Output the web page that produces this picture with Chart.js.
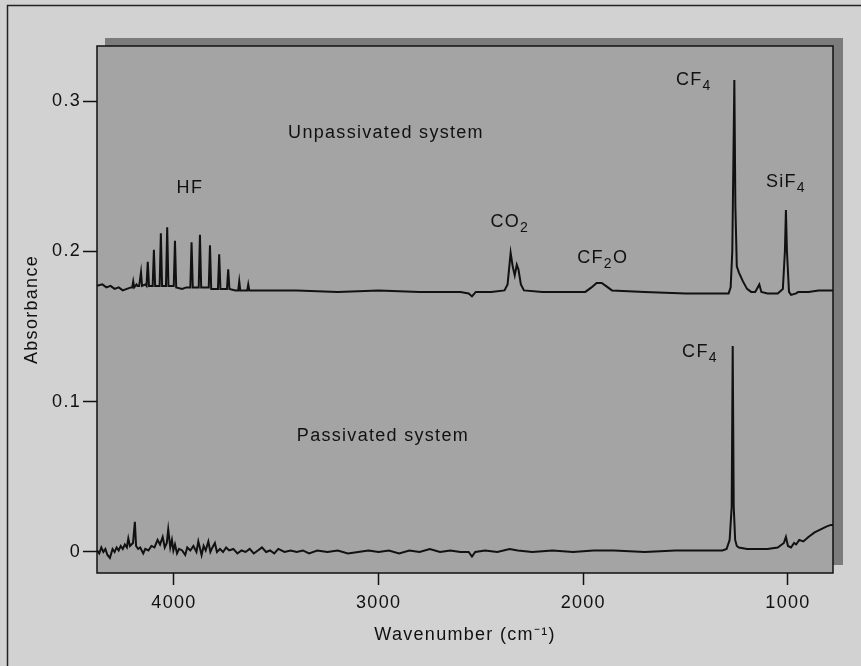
<!DOCTYPE html>
<html>
<head>
<meta charset="utf-8">
<script src="https://cdn.jsdelivr.net/npm/chart.js@4.4.1/dist/chart.umd.min.js"></script>
<style>
  html, body { margin: 0; padding: 0; background: #d2d2d2; }
  #wrap { width: 861px; height: 666px; position: relative; }
</style>
</head>
<body>
<div id="wrap"><canvas id="spectrum" width="861" height="666"></canvas></div>
<script>
// Spectrum data (wavenumber in cm-1, absorbance)
const unpassWn = [
  4376, 4350, 4330, 4310, 4290, 4270, 4250, 4230, 4210, 4204,
  4199, 4194, 4183, 4178, 4170, 4166, 4161, 4156, 4140, 4134,
  4128, 4122, 4104, 4098, 4092, 4070, 4064, 4058, 4039, 4033,
  4027, 4001, 3995, 3989, 3960, 3940, 3920, 3914, 3908, 3879,
  3873, 3867, 3830, 3824, 3818, 3785, 3779, 3773, 3741, 3735,
  3729, 3700, 3686, 3681, 3676, 3642, 3637, 3632, 3550, 3400,
  3200, 3000, 2800, 2600, 2560, 2544, 2525, 2450, 2385, 2370,
  2355, 2345, 2335, 2325, 2317, 2305, 2290, 2200, 2100, 1990,
  1960, 1935, 1910, 1890, 1860, 1700, 1500, 1350, 1290, 1280,
  1272, 1262, 1257, 1250, 1240, 1220, 1200, 1180, 1160, 1140,
  1130, 1100, 1050, 1025, 1015, 1010, 1005, 995, 985, 960,
  950, 900, 850, 780];
const unpassAbs = [
  0.177, 0.178, 0.176, 0.177, 0.175, 0.176, 0.174, 0.175, 0.176, 0.176,
  0.180, 0.176, 0.178, 0.177, 0.177, 0.177, 0.186, 0.177, 0.178, 0.177,
  0.193, 0.177, 0.177, 0.201, 0.177, 0.177, 0.212, 0.177, 0.177, 0.216,
  0.177, 0.177, 0.207, 0.176, 0.175, 0.176, 0.176, 0.206, 0.176, 0.176,
  0.211, 0.176, 0.176, 0.204, 0.175, 0.175, 0.198, 0.175, 0.175, 0.188,
  0.175, 0.174, 0.174, 0.180, 0.174, 0.174, 0.178, 0.174, 0.174, 0.174,
  0.173, 0.174, 0.173, 0.173, 0.172, 0.170, 0.173, 0.173, 0.174, 0.178,
  0.199, 0.190, 0.184, 0.191, 0.188, 0.178, 0.174, 0.173, 0.173, 0.173,
  0.176, 0.179, 0.179, 0.177, 0.174, 0.173, 0.172, 0.172, 0.172, 0.176,
  0.200, 0.314, 0.230, 0.190, 0.186, 0.180, 0.175, 0.173, 0.173, 0.178,
  0.173, 0.172, 0.172, 0.175, 0.200, 0.2275, 0.200, 0.173, 0.171, 0.172,
  0.173, 0.173, 0.174, 0.174];

const passWn = [4376, 4365, 4355, 4345, 4335, 4325, 4313, 4300, 4290, 4280, 4270, 4260, 4250, 4240, 4230, 4223, 4215, 4200, 4191, 4185,
  4175, 4165, 4150, 4140, 4125, 4110, 4095, 4080, 4068, 4055, 4045, 4035, 4028, 4018, 4010, 4003, 3995, 3985, 3975, 3960,
  3945, 3935, 3920, 3905, 3890, 3881, 3872, 3865, 3855, 3845, 3832, 3822, 3812, 3800, 3790, 3775, 3760, 3745, 3730, 3710,
  3690, 3670, 3650, 3630, 3610, 3590, 3570, 3550, 3530, 3510, 3490, 3460, 3430, 3400, 3370, 3340, 3300, 3250, 3200, 3150,
  3100, 3050, 3000, 2950, 2900, 2850, 2800, 2750, 2700, 2650, 2600, 2560, 2544, 2528, 2480, 2420, 2360, 2320, 2250, 2150,
  2050, 1950, 1850, 1700, 1550, 1400, 1320, 1300, 1285, 1275, 1270, 1265, 1258, 1250, 1240, 1200, 1150, 1100, 1050, 1020,
  1010, 1000, 985, 970, 960, 945, 925, 900, 870, 840, 810, 790, 780];
const passAbs = [0.001, -0.001, 0.003, 0.000, 0.002, -0.002, -0.004, 0.002, 0.000, 0.003, 0.001, 0.004, 0.002, 0.005, 0.003, 0.009, 0.004, 0.006, 0.020, 0.004,
  0.002, 0.003, -0.001, 0.002, 0.001, 0.004, 0.003, 0.008, 0.005, 0.010, 0.003, 0.006, 0.015, 0.003, 0.008, 0.001, 0.005, -0.001, 0.002, 0.001,
  -0.002, 0.003, 0.001, 0.004, 0.000, 0.007, 0.002, -0.002, 0.004, 0.001, 0.007, 0.000, 0.003, 0.006, 0.000, 0.002, 0.000, 0.003, 0.001, 0.002,
  -0.001, 0.001, 0.000, 0.002, -0.001, 0.001, 0.003, 0.000, 0.001, -0.001, 0.002, 0.000, 0.001, 0.000, 0.001, -0.001, 0.001, 0.000, 0.001, -0.001,
  0.000, 0.001, 0.000, 0.001, -0.001, 0.001, 0.000, 0.002, 0.000, 0.001, 0.000, 0.000, -0.003, 0.000, 0.001, 0.000, 0.002, 0.001, 0.000, 0.001,
  0.000, 0.001, 0.001, 0.000, 0.001, 0.001, 0.001, 0.002, 0.008, 0.030, 0.137, 0.030, 0.008, 0.004, 0.003, 0.002, 0.002, 0.002, 0.003, 0.006,
  0.010, 0.004, 0.003, 0.006, 0.005, 0.008, 0.007, 0.010, 0.013, 0.015, 0.017, 0.018, 0.018];

const xTicks = [1000, 2000, 3000, 4000];
const yTicks = [0, 0.1, 0.2, 0.3];

const FONT = '"Liberation Sans", Arial, Helvetica, sans-serif';
const SPACING = '1.3px';

function toPoints(xs, ys) {
  return xs.map((x, i) => ({ x: x, y: ys[i] }));
}

// Peak labels, positioned in data coordinates
const peakLabels = [
  { parts: [['Unpassivated system', 0]], x: 2964, y: 0.279 },
  { parts: [['HF', 0]], x: 3922, y: 0.242 },
  { parts: [['CO', 0], ['2', 1]], x: 2359, y: 0.2196 },
  { parts: [['CF', 0], ['2', 1], ['O', 0]], x: 1905, y: 0.1956 },
  { parts: [['CF', 0], ['4', 1]], x: 1460, y: 0.314 },
  { parts: [['SiF', 0], ['4', 1]], x: 1010, y: 0.246 },
  { parts: [['CF', 0], ['4', 1]], x: 1430, y: 0.133 },
  { parts: [['Passivated system', 0]], x: 2979, y: 0.077 }
];

// Page background, drop shadow and plot panel
const panelPlugin = {
  id: 'panel',
  beforeDraw(chart) {
    const ctx = chart.ctx;
    const a = chart.chartArea;
    ctx.save();
    ctx.fillStyle = '#d2d2d2';
    ctx.fillRect(0, 0, chart.width, chart.height);
    // outer frame (left and top visible)
    ctx.strokeStyle = '#222';
    ctx.lineWidth = 1.5;
    ctx.beginPath();
    ctx.moveTo(7.5, chart.height);
    ctx.lineTo(7.5, 5.5);
    ctx.lineTo(chart.width, 5.5);
    ctx.stroke();
    // shadow
    ctx.fillStyle = '#7c7c7c';
    ctx.fillRect(a.left + 8, a.top - 8, a.right - a.left + 2, a.bottom - a.top);
    // panel
    ctx.fillStyle = '#a4a4a4';
    ctx.fillRect(a.left, a.top, a.right - a.left, a.bottom - a.top);
    ctx.restore();
    // wide type like the original, kept for the rest of the draw
    ctx.letterSpacing = SPACING;
  },
  afterDraw(chart) {
    const ctx = chart.ctx;
    const a = chart.chartArea;
    ctx.save();
    ctx.strokeStyle = '#111';
    ctx.lineWidth = 1.5;
    ctx.strokeRect(a.left, a.top, a.right - a.left, a.bottom - a.top);

    const xs = chart.scales.x, ys = chart.scales.y;
    ctx.fillStyle = '#111';
    ctx.textBaseline = 'middle';
    ctx.letterSpacing = SPACING;
    peakLabels.forEach(lab => {
      const main = '18px ' + FONT, sub = '14px ' + FONT;
      let w = 0;
      lab.parts.forEach(p => { ctx.font = p[1] ? sub : main; w += ctx.measureText(p[0]).width; });
      let px = xs.getPixelForValue(lab.x) - w / 2;
      const py = ys.getPixelForValue(lab.y);
      ctx.textAlign = 'left';
      lab.parts.forEach(p => {
        ctx.font = p[1] ? sub : main;
        ctx.fillText(p[0], px, p[1] ? py + 6 : py);
        px += ctx.measureText(p[0]).width;
      });
    });
    ctx.restore();
  }
};

const ctx = document.getElementById('spectrum').getContext('2d');
const chart = new Chart(ctx, {
  type: 'line',
  data: {
    datasets: [
      {
        label: 'Unpassivated system',
        data: toPoints(unpassWn, unpassAbs),
        borderColor: '#111',
        borderWidth: 2,
        pointRadius: 0,
        tension: 0,
        fill: false
      },
      {
        label: 'Passivated system',
        data: toPoints(passWn, passAbs),
        borderColor: '#111',
        borderWidth: 2,
        pointRadius: 0,
        tension: 0,
        fill: false
      }
    ]
  },
  options: {
    responsive: false,
    animation: false,
    events: [],
    layout: { padding: { top: 46, right: 28, left: 0, bottom: 0 } },
    plugins: {
      legend: { display: false },
      tooltip: { enabled: false }
    },
    scales: {
      x: {
        type: 'linear',
        reverse: true,
        min: 780,
        max: 4376,
        afterBuildTicks(scale) { scale.ticks = xTicks.map(v => ({ value: v })); },
        afterFit(scale) { scale.height = 93; },
        grid: { drawOnChartArea: false, color: '#111', tickLength: 12, tickWidth: 1.5 },
        border: { display: false },
        ticks: { color: '#111', font: { family: FONT, size: 18 }, padding: 7, maxRotation: 0, callback: v => String(v) },
        title: {
          display: true,
          text: 'Wavenumber (cm\u207B\u00B9)',
          color: '#111',
          font: { family: FONT, size: 18 },
          padding: { top: 4, bottom: 20 }
        }
      },
      y: {
        min: -0.014,
        max: 0.3366,
        afterBuildTicks(scale) { scale.ticks = yTicks.map(v => ({ value: v })); },
        afterFit(scale) { scale.width = 97; },
        grid: { drawOnChartArea: false, color: '#111', tickLength: 14, tickWidth: 1.5 },
        border: { display: false },
        ticks: {
          color: '#111',
          font: { family: FONT, size: 18 },
          padding: 2,
          callback: v => (v === 0 ? '0' : v.toFixed(1))
        },
        title: {
          display: true,
          text: 'Absorbance',
          color: '#111',
          font: { family: FONT, size: 18 },
          padding: { top: 21, bottom: 4 }
        }
      }
    }
  },
  plugins: [panelPlugin]
});
</script>
</body>
</html>
